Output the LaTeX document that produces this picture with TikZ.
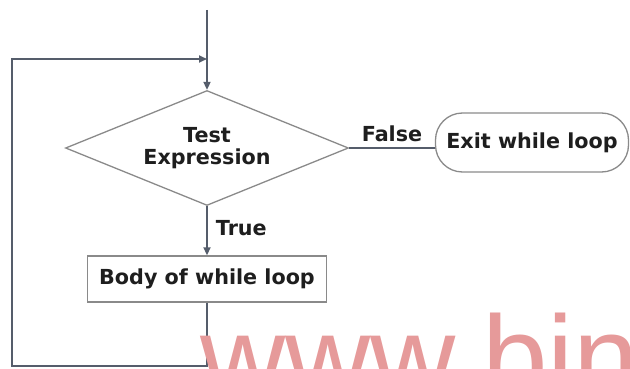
\documentclass[tikz,border=0pt]{standalone}
\usepackage{fontspec}
\setmainfont{DejaVu Sans}
\newfontfamily\wmfont{Liberation Sans}
\usetikzlibrary{shapes.geometric,arrows.meta}

\definecolor{linecol}{HTML}{555D6B}
\definecolor{edgecol}{HTML}{8A8A8A}
\definecolor{txtcol}{HTML}{1E1E1E}
\definecolor{markcol}{HTML}{E69A9A}

\tikzset{
  lbl/.style={font=\bfseries\fontsize{20.7}{22.5}\selectfont, text=txtcol, inner sep=0pt, align=center},
  decision/.style={diamond, draw=edgecol, line width=1.3pt, aspect=2.46, inner sep=0pt,
                   minimum width=283pt, minimum height=115pt, lbl},
  process/.style={rectangle, draw=edgecol, line width=1.4pt, minimum width=239pt,
                  minimum height=46pt, lbl},
  terminal/.style={rectangle, rounded corners=27pt, draw=edgecol, line width=1.3pt,
                   minimum width=193pt, minimum height=59pt, lbl},
  flow/.style={draw=linecol, line width=1.8pt},
  tip/.style={-{Triangle[length=8pt,width=7pt]}}
}

\begin{document}
\begin{tikzpicture}[x=1pt, y=-1pt]
  \useasboundingbox (0,0) rectangle (630,369);

  % shapes
  \node[decision] (test) at (207,148) {Test\\Expression};
  \node[process]  (body) at (207,279) {Body of while loop};
  \node[terminal] (exit) at (532,142.5) {Exit while loop};

  % free ends of the loop
  \coordinate (start) at (207,10);
  \coordinate (join)  at (207,59);
  \coordinate (bl)    at (12,366);
  \coordinate (tl)    at (12,59);

  % connectors
  \draw[flow] (start) -- (join);
  \draw[flow, tip] (join) -- (test.north);
  \draw[flow, tip] (test.south) -- node[lbl, right=8pt, pos=0.45] {True} (body.north);
  \draw[flow] (test.east) -- node[lbl, above=5pt] {False} (test.east -| exit.west);
  \draw[flow, tip] (body.south) |- (bl) -- (tl) -- (join);

  % watermark
  \node[anchor=base west, inner sep=0pt, text=markcol,
        font=\wmfont\fontsize{118}{118}\selectfont] (mark) at (200,398) {www.bin};
\end{tikzpicture}
\end{document}
